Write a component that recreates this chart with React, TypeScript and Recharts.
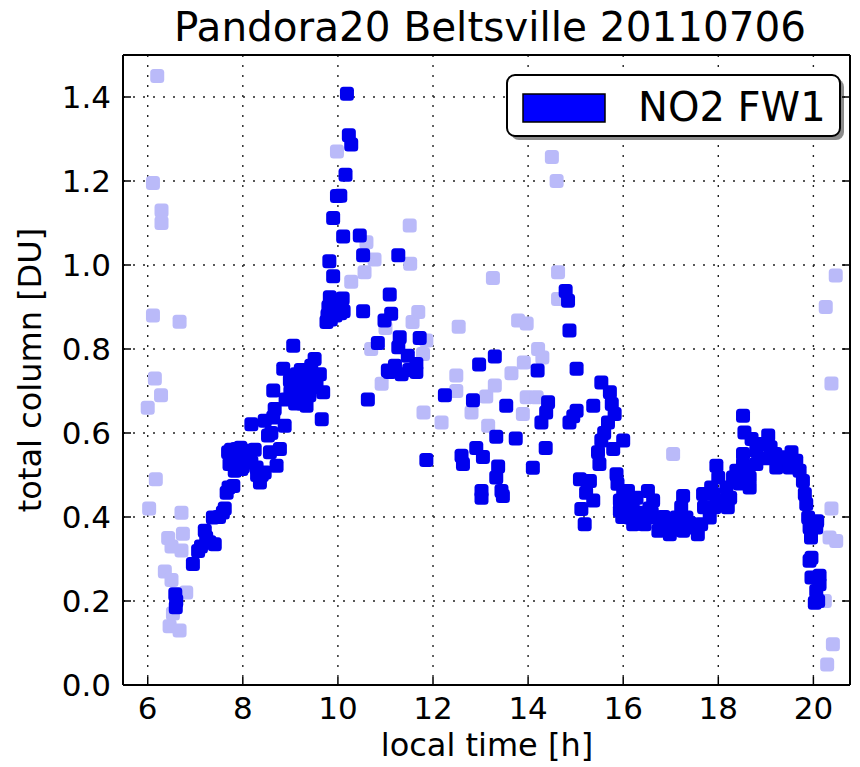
import React from 'react';
import { ScatterChart, Scatter, XAxis, YAxis, CartesianGrid } from 'recharts';

// NO2 FW1, good quality (dark) - local time [h] and total column [DU]
const darkTime = [
  6.58, 6.6, 6.59, 6.95, 7.06, 7.12, 7.2, 7.23, 7.3, 7.37, 7.41, 7.5, 7.58, 7.62, 7.66, 7.69, 7.7, 7.72, 7.75, 7.8,
  7.83, 7.87, 7.9, 7.95, 7.97, 8.0, 8.05, 8.1, 8.14, 8.18, 8.18, 8.25, 8.29, 8.3, 8.36, 8.4, 8.46, 8.46, 8.53, 8.57,
  8.6, 8.64, 8.64, 8.67, 8.71, 8.78, 8.85, 8.88, 8.9, 8.99, 9.0, 9.05, 9.06, 9.1, 9.13, 9.15, 9.18, 9.2, 9.22, 9.25,
  9.27, 9.3, 9.34, 9.35, 9.38, 9.4, 9.44, 9.48, 9.51, 9.55, 9.62, 9.66, 9.69, 9.76, 9.78, 9.8, 9.82, 9.83, 9.85, 9.9,
  9.9, 9.92, 9.95, 9.98, 10.0, 10.05, 10.05, 10.1, 10.11, 10.12, 10.16, 10.19, 10.23, 10.28, 10.46, 10.53, 10.53, 10.63, 10.84, 10.98,
  11.05, 11.09, 11.09, 11.12, 11.2, 11.27, 11.27, 11.3, 11.34, 11.47, 11.5, 11.65, 11.65, 11.72, 11.86, 12.25, 12.6, 12.63, 12.84, 12.91,
  12.97, 13.02, 13.02, 13.05, 13.3, 13.33, 13.33, 13.37, 13.44, 13.47, 13.54, 13.74, 14.1, 14.2, 14.28, 14.37, 14.38, 14.42, 14.79, 14.84,
  14.87, 14.87, 14.95, 15.02, 15.02, 15.09, 15.12, 15.19, 15.22, 15.3, 15.37, 15.37, 15.47, 15.5, 15.54, 15.54, 15.6, 15.68, 15.72, 15.76,
  15.79, 15.82, 15.86, 15.88, 15.93, 15.93, 15.98, 16.0, 16.0, 16.05, 16.05, 16.1, 16.14, 16.2, 16.21, 16.28, 16.3, 16.35, 16.42, 16.45,
  16.52, 16.55, 16.6, 16.63, 16.7, 16.74, 16.8, 16.85, 16.91, 16.98, 17.05, 17.1, 17.12, 17.22, 17.26, 17.26, 17.33, 17.4, 17.47, 17.57,
  17.64, 17.68, 17.7, 17.82, 17.85, 17.9, 17.92, 17.96, 18.0, 18.1, 18.17, 18.2, 18.25, 18.31, 18.38, 18.45, 18.52, 18.52, 18.52, 18.55,
  18.6, 18.66, 18.66, 18.7, 18.8, 18.8, 18.9, 19.0, 19.05, 19.1, 19.2, 19.22, 19.36, 19.45, 19.5, 19.54, 19.64, 19.71, 19.78, 19.82,
  19.85, 19.89, 19.92, 19.92, 19.95, 19.96, 19.96, 20.03, 20.06, 20.06, 20.08, 20.1, 20.13, 20.13,
];
const darkColumn = [
  0.216, 0.2, 0.185, 0.288, 0.319, 0.33, 0.367, 0.351, 0.34, 0.399, 0.335, 0.4, 0.411, 0.42, 0.458, 0.554, 0.47, 0.526, 0.56, 0.474,
  0.51, 0.562, 0.54, 0.565, 0.514, 0.52, 0.55, 0.54, 0.558, 0.53, 0.621, 0.56, 0.518, 0.5, 0.482, 0.5, 0.506, 0.629, 0.594, 0.554,
  0.6, 0.637, 0.701, 0.657, 0.522, 0.562, 0.753, 0.617, 0.68, 0.725, 0.697, 0.7, 0.808, 0.67, 0.74, 0.69, 0.709, 0.72, 0.75, 0.67,
  0.685, 0.7, 0.665, 0.75, 0.73, 0.69, 0.76, 0.709, 0.776, 0.72, 0.74, 0.633, 0.697, 0.864, 0.88, 0.9, 1.009, 0.923, 0.87, 1.112,
  0.973, 0.9, 0.88, 1.164, 0.91, 1.165, 0.885, 0.92, 1.068, 0.89, 1.215, 1.408, 1.309, 1.287, 1.07, 1.023, 0.89, 0.68, 0.814, 0.868,
  0.749, 0.93, 0.745, 0.884, 0.76, 1.023, 0.804, 0.828, 0.74, 0.784, 0.75, 0.764, 0.745, 0.826, 0.536, 0.69, 0.546, 0.526, 0.678, 0.564,
  0.763, 0.462, 0.446, 0.543, 0.782, 0.591, 0.494, 0.52, 0.462, 0.45, 0.665, 0.587, 0.517, 0.749, 0.625, 0.564, 0.649, 0.673, 0.938, 0.915,
  0.844, 0.625, 0.64, 0.753, 0.653, 0.49, 0.419, 0.383, 0.458, 0.486, 0.439, 0.665, 0.554, 0.526, 0.72, 0.582, 0.6, 0.625, 0.697, 0.669,
  0.562, 0.645, 0.502, 0.479, 0.439, 0.415, 0.4, 0.582, 0.46, 0.42, 0.44, 0.462, 0.399, 0.43, 0.383, 0.446, 0.41, 0.39, 0.407, 0.383,
  0.462, 0.42, 0.41, 0.439, 0.399, 0.367, 0.383, 0.4, 0.375, 0.359, 0.383, 0.37, 0.399, 0.423, 0.45, 0.367, 0.399, 0.385, 0.375, 0.359,
  0.383, 0.455, 0.423, 0.399, 0.47, 0.455, 0.423, 0.522, 0.494, 0.44, 0.47, 0.423, 0.446, 0.494, 0.51, 0.48, 0.526, 0.55, 0.641, 0.601,
  0.5, 0.47, 0.494, 0.586, 0.558, 0.526, 0.574, 0.54, 0.594, 0.566, 0.55, 0.518, 0.542, 0.53, 0.518, 0.554, 0.534, 0.51, 0.486, 0.455,
  0.431, 0.399, 0.375, 0.296, 0.351, 0.303, 0.256, 0.196, 0.375, 0.224, 0.39, 0.2, 0.26, 0.24,
];

// filtered / low quality (light)
const lightTime = [
  6.0, 6.03, 6.11, 6.11, 6.15, 6.17, 6.2, 6.28, 6.29, 6.29, 6.36, 6.43, 6.46, 6.5, 6.5, 6.53, 6.67, 6.67, 6.71, 6.71,
  6.74, 6.81, 9.98, 10.28, 10.56, 10.6, 10.7, 10.77, 10.92, 11.0, 11.51, 11.52, 11.57, 11.69, 11.79, 11.8, 11.86, 12.18, 12.49, 12.49,
  12.54, 12.81, 13.12, 13.16, 13.26, 13.3, 13.65, 13.79, 13.89, 13.91, 13.97, 13.97, 14.18, 14.21, 14.3, 14.5, 14.6, 14.63, 14.63, 17.05,
  20.24, 20.26, 20.29, 20.34, 20.38, 20.38, 20.41, 20.47, 20.48,
];
const lightColumn = [
  0.66, 0.42, 1.195, 0.88, 0.73, 0.49, 1.45, 0.69, 1.13, 1.1, 0.27, 0.35, 0.14, 0.33, 0.25, 0.17, 0.865, 0.13, 0.41, 0.32,
  0.36, 0.22, 1.27, 0.96, 0.983, 1.054, 0.8, 1.013, 0.717, 0.85, 1.094, 1.003, 0.864, 0.888, 0.788, 0.649, 0.82, 0.625, 0.737, 0.7,
  0.853, 0.649, 0.687, 0.617, 0.969, 0.713, 0.742, 0.868, 0.645, 0.768, 0.861, 0.685, 0.685, 0.8, 0.78, 1.257, 1.2, 0.983, 0.919, 0.55,
  0.2, 0.9, 0.049, 0.351, 0.718, 0.42, 0.097, 0.975, 0.343,
];

const xTicks = [6, 8, 10, 12, 14, 16, 18, 20];
const yTicks = [0, 0.2, 0.4, 0.6, 0.8, 1.0, 1.2, 1.4];

const FONT = 'DejaVu Sans';
const DARK = '#0000ee';
const LIGHT = '#babaf9';

const toPoints = (t: number[], v: number[]) => t.map((time, i) => ({ time, column: v[i] }));
const darkPoints = toPoints(darkTime, darkColumn);
const lightPoints = toPoints(lightTime, lightColumn);

const square = (color: string) => (props: any) => (
  <rect x={props.cx - 7} y={props.cy - 7} width={14} height={14} rx={3.5} fill={color} />
);

const axisLine = { stroke: '#000', strokeWidth: 2 };
const tickLine = { stroke: '#000', strokeWidth: 1.5 };
const tickStyle = { fill: '#000', fontSize: 31, fontFamily: FONT };
const blank = () => '';

export default function App() {
  return (
    <div style={{ position: 'absolute', left: 0, top: 0, width: 860, height: 767, background: '#fff' }}>
      <ScatterChart width={860} height={767} margin={{ top: 45, right: 0, bottom: 52, left: 63 }}>
        <CartesianGrid stroke="#222" strokeWidth={1.4} strokeDasharray="2 8" />
        <XAxis
          dataKey="time"
          type="number"
          domain={[5.48, 20.77]}
          ticks={xTicks}
          interval={0}
          allowDataOverflow
          height={30}
          tickSize={-8}
          tickMargin={20}
          axisLine={axisLine}
          tickLine={tickLine}
          tick={tickStyle}
        />
        <XAxis
          xAxisId="top"
          orientation="top"
          type="number"
          domain={[5.48, 20.77]}
          ticks={xTicks}
          interval={0}
          allowDataOverflow
          height={10}
          tickSize={-8}
          tickFormatter={blank}
          axisLine={axisLine}
          tickLine={tickLine}
        />
        <YAxis
          dataKey="column"
          type="number"
          domain={[0, 1.5]}
          ticks={yTicks}
          interval={0}
          allowDataOverflow
          width={60}
          tickSize={-8}
          tickMargin={20}
          tickFormatter={(v: number) => v.toFixed(1)}
          axisLine={axisLine}
          tickLine={tickLine}
          tick={tickStyle}
        />
        <YAxis
          yAxisId="right"
          orientation="right"
          type="number"
          domain={[0, 1.5]}
          ticks={yTicks}
          interval={0}
          allowDataOverflow
          width={10}
          tickSize={-8}
          tickFormatter={blank}
          axisLine={axisLine}
          tickLine={tickLine}
        />
        <Scatter data={lightPoints} fill={LIGHT} shape={square(LIGHT)} isAnimationActive={false} />
        <Scatter data={darkPoints} fill={DARK} shape={square(DARK)} isAnimationActive={false} />

        <text x={490} y={41} textAnchor="middle" fontFamily={FONT} fontSize={40.5} fill="#000">
          Pandora20 Beltsville 20110706
        </text>
        <text x={487} y={756} textAnchor="middle" fontFamily={FONT} fontSize={32} fill="#000">
          local time [h]
        </text>
        <text
          x={41}
          y={370}
          textAnchor="middle"
          fontFamily={FONT}
          fontSize={32}
          fill="#000"
          transform="rotate(-90 41 370)"
        >
          total column [DU]
        </text>

        <g>
          <rect x={511} y={79} width={333} height={61} rx={8} fill="#777" opacity={0.85} />
          <rect x={507} y={75} width={333} height={61} rx={8} fill="#fff" stroke="#000" strokeWidth={2} />
          <rect x={523} y={94} width={82} height={28} fill="#0000ff" stroke="#000" strokeWidth={1.5} />
          <text x={638} y={121} fontFamily={FONT} fontSize={40} fill="#000">
            NO2 FW1
          </text>
        </g>
      </ScatterChart>
    </div>
  );
}
